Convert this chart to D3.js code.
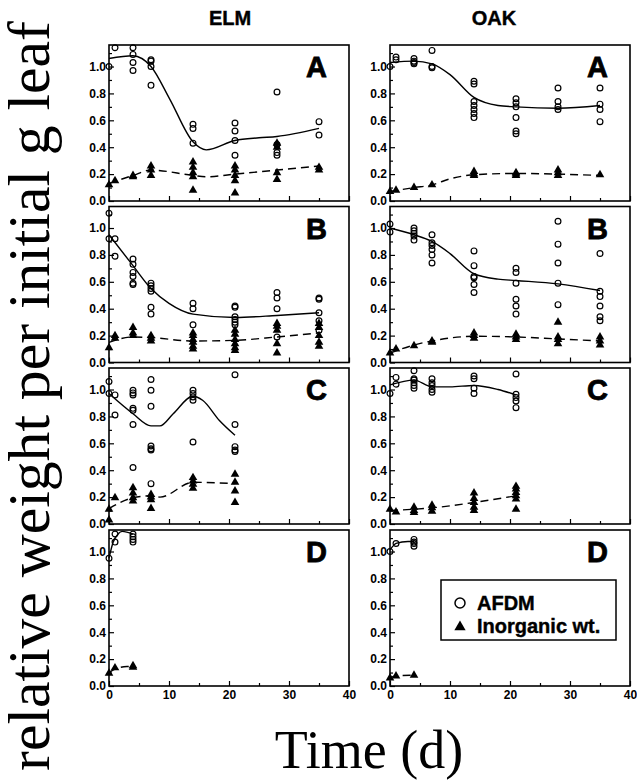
<!DOCTYPE html>
<html><head><meta charset="utf-8">
<script src="https://cdn.jsdelivr.net/npm/d3@7/dist/d3.min.js"></script>
<style>
html,body{margin:0;padding:0;background:#fff;}
svg{display:block;}
.tick text{font-family:"Liberation Sans",Arial,sans-serif;font-weight:700;font-size:12px;fill:#000;}
</style></head>
<body><svg id="c" width="637" height="782"></svg>
<script>
// ---------- data ----------
const columns = ["ELM", "OAK"];
const panelLetters = ["A", "B", "C", "D"];
const yTicks = [0, 0.2, 0.4, 0.6, 0.8, 1.0];
const yMinor = [0.1, 0.3, 0.5, 0.7, 0.9, 1.1];
const xTicks = [0, 10, 20, 30, 40];
const xMinor = [5, 15, 25, 35];
const legendLabels = ["AFDM", "Inorganic wt."];

// [day, value]
const elmA_afdm = [[0,1.0],[1,1.14],[4,1.14],[4,1.09],[4,1.03],[4,0.97],[7,1.05],[7,1.04],[7,1.0],[7,0.86],[14,0.57],[14,0.54],[14,0.43],[21,0.58],[21,0.52],[21,0.45],[21,0.34],[28,0.81],[28,0.42],[28,0.36],[28,0.34],[35,0.59],[35,0.49]];
const elmA_afdmFit = [[0,1.06],[4,1.08],[7,1.0],[10.1,0.76],[14,0.44],[16.2,0.38],[21,0.45],[25,0.47],[28,0.48],[35,0.54]];
const elmA_inorg = [[0,0.12],[1,0.15],[4,0.19],[4,0.18],[7,0.26],[7,0.23],[7,0.19],[14,0.29],[14,0.25],[14,0.21],[14,0.18],[14,0.08],[21,0.26],[21,0.23],[21,0.19],[21,0.15],[21,0.06],[28,0.43],[28,0.40],[28,0.21],[28,0.16],[35,0.25],[35,0.23]];
const elmA_inorgFit = [[0,0.13],[4,0.19],[7,0.23],[14,0.19],[16.2,0.18],[21,0.2],[28,0.23],[35,0.26]];

const oakA_afdm = [[0,1.0],[1,1.07],[1,1.05],[4,1.06],[4,1.04],[4,1.03],[4,1.02],[7,1.12],[7,1.0],[7,0.99],[14,0.89],[14,0.87],[14,0.74],[14,0.71],[14,0.68],[14,0.65],[14,0.62],[21,0.76],[21,0.73],[21,0.70],[21,0.62],[21,0.52],[21,0.50],[28,0.84],[28,0.74],[28,0.70],[28,0.68],[35,0.84],[35,0.72],[35,0.68],[35,0.59]];
const oakA_afdmFit = [[0,1.03],[4,1.04],[7,1.02],[10,0.94],[14,0.77],[18,0.71],[21,0.70],[28,0.69],[35,0.71]];
const oakA_inorg = [[0,0.07],[1,0.08],[4,0.10],[7,0.12],[14,0.22],[14,0.20],[14,0.19],[21,0.21],[21,0.20],[21,0.19],[28,0.23],[28,0.21],[28,0.19],[35,0.195]];
const oakA_inorgFit = [[0,0.07],[4,0.10],[7,0.12],[10,0.165],[14,0.195],[21,0.205],[28,0.2],[35,0.19]];

const elmB_afdm = [[0,1.11],[0,0.92],[1,0.92],[1,0.79],[4,0.77],[4,0.73],[4,0.67],[4,0.64],[4,0.59],[4,0.58],[7,0.59],[7,0.57],[7,0.55],[7,0.53],[7,0.41],[7,0.36],[14,0.44],[14,0.40],[14,0.28],[21,0.42],[21,0.41],[21,0.34],[21,0.32],[21,0.30],[21,0.28],[28,0.52],[28,0.48],[28,0.40],[28,0.19],[35,0.48],[35,0.47],[35,0.37],[35,0.31],[35,0.24]];
const elmB_afdmFit = [[0,0.95],[4,0.72],[7,0.55],[10,0.44],[14,0.36],[21,0.335],[28,0.35],[35,0.37]];
const elmB_inorg = [[0,0.11],[1,0.20],[1,0.18],[4,0.26],[4,0.22],[4,0.20],[7,0.20],[7,0.18],[7,0.16],[14,0.22],[14,0.20],[14,0.17],[14,0.15],[14,0.12],[14,0.10],[21,0.24],[21,0.21],[21,0.17],[21,0.14],[21,0.11],[21,0.09],[28,0.29],[28,0.27],[28,0.24],[28,0.14],[28,0.07],[35,0.29],[35,0.26],[35,0.20],[35,0.15],[35,0.12]];
const elmB_inorgFit = [[0,0.15],[4,0.19],[7,0.185],[14,0.16],[21,0.165],[28,0.19],[35,0.22]];

const oakB_afdm = [[0,1.03],[0,0.97],[4,1.0],[4,0.98],[4,0.96],[4,0.94],[4,0.91],[7,0.95],[7,0.89],[7,0.87],[7,0.84],[7,0.80],[7,0.74],[14,0.83],[14,0.72],[14,0.64],[14,0.63],[14,0.58],[14,0.52],[21,0.70],[21,0.67],[21,0.59],[21,0.47],[21,0.42],[21,0.36],[28,1.05],[28,0.88],[28,0.74],[28,0.59],[28,0.43],[35,0.81],[35,0.53],[35,0.49],[35,0.42],[35,0.34],[35,0.31]];
const oakB_afdmFit = [[0,1.0],[4,0.95],[7,0.9],[10,0.81],[14,0.66],[18,0.62],[21,0.61],[28,0.585],[35,0.535]];
const oakB_inorg = [[0,0.07],[1,0.10],[4,0.125],[7,0.16],[7,0.15],[14,0.22],[14,0.20],[14,0.18],[21,0.21],[21,0.19],[21,0.17],[28,0.30],[28,0.19],[28,0.17],[28,0.14],[35,0.19],[35,0.16],[35,0.13]];
const oakB_inorgFit = [[0,0.07],[4,0.13],[7,0.16],[14,0.195],[21,0.19],[28,0.175],[35,0.16]];

const elmC_afdm = [[0,1.06],[0,0.97],[1,0.96],[1,0.81],[4,0.995],[4,0.975],[4,0.96],[4,0.86],[4,0.845],[4,0.74],[4,0.42],[7,1.075],[7,0.995],[7,0.875],[7,0.58],[7,0.56],[7,0.55],[7,0.30],[14,0.995],[14,0.97],[14,0.945],[14,0.92],[14,0.61],[21,1.11],[21,0.74],[21,0.575],[21,0.55],[21,0.54]];
const elmC_afdmFit = [[0,0.97],[4,0.82],[7,0.73],[8.5,0.73],[10.7,0.82],[14,0.95],[15.6,0.92],[18.4,0.77],[21,0.66]];
const elmC_inorg = [[0,0.11],[0,0.03],[1,0.195],[4,0.27],[4,0.23],[4,0.195],[4,0.17],[7,0.22],[7,0.20],[7,0.18],[7,0.115],[14,0.345],[14,0.32],[14,0.295],[14,0.265],[21,0.37],[21,0.31],[21,0.245],[21,0.16]];
const elmC_inorgFit = [[0,0.115],[4,0.195],[7,0.21],[8.5,0.2],[14,0.31],[21,0.3]];

const oakC_afdm = [[0,0.97],[1,1.09],[1,1.04],[4,1.14],[4,1.08],[4,1.07],[4,1.05],[4,1.03],[4,1.01],[7,1.08],[7,1.05],[7,1.03],[7,1.0],[7,0.98],[14,1.10],[14,1.08],[14,1.01],[14,0.97],[21,1.115],[21,0.965],[21,0.94],[21,0.915],[21,0.865]];
const oakC_afdmFit = [[0,1.035],[4,1.07],[7,1.02],[10,1.02],[14,1.03],[18,1.0],[21,0.96]];
const oakC_inorg = [[0,0.11],[1,0.09],[4,0.125],[4,0.10],[4,0.085],[7,0.14],[7,0.12],[7,0.095],[14,0.23],[14,0.19],[14,0.16],[14,0.125],[14,0.10],[21,0.28],[21,0.26],[21,0.235],[21,0.21],[21,0.185],[21,0.11]];
const oakC_inorgFit = [[0,0.10],[4,0.11],[7,0.12],[14,0.16],[21,0.21]];

const elmD_afdm = [[0,0.95],[1,1.13],[1,1.07],[4,1.13],[4,1.11],[4,1.09],[4,1.07]];
const elmD_afdmFit = [[0,0.95],[0.7,1.07],[1.5,1.13],[2.2,1.15],[4,1.13]];
const elmD_inorg = [[0,0.095],[1,0.135],[4,0.15],[4,0.14]];
const elmD_inorgFit = [[0,0.1],[1,0.125],[3,0.145],[4,0.145]];

const oakD_afdm = [[0,1.0],[1,1.06],[4,1.09],[4,1.07],[4,1.06],[4,1.04]];
const oakD_afdmFit = [[0,1.01],[1,1.06],[3,1.075],[4,1.075]];
const oakD_inorg = [[0,0.06],[1,0.075],[4,0.08]];
const oakD_inorgFit = [[0,0.06],[1,0.075],[4,0.08]];

const panels = [
  [elmA_afdm, elmA_afdmFit, elmA_inorg, elmA_inorgFit],
  [oakA_afdm, oakA_afdmFit, oakA_inorg, oakA_inorgFit],
  [elmB_afdm, elmB_afdmFit, elmB_inorg, elmB_inorgFit],
  [oakB_afdm, oakB_afdmFit, oakB_inorg, oakB_inorgFit],
  [elmC_afdm, elmC_afdmFit, elmC_inorg, elmC_inorgFit],
  [oakC_afdm, oakC_afdmFit, oakC_inorg, oakC_inorgFit],
  [elmD_afdm, elmD_afdmFit, elmD_inorg, elmD_inorgFit],
  [oakD_afdm, oakD_afdmFit, oakD_inorg, oakD_inorgFit]
];

// ---------- layout ----------
const colLeft = [109, 390];
const plotW = 240;
const rowTop = [45, 206.5, 368, 530];
const plotH = 156;
const titleX = [230, 494];
const sans = '"Liberation Sans", Arial, Helvetica, sans-serif';
const serif = '"Liberation Serif", "Times New Roman", Times, serif';

const svg = d3.select("#c");

const x = d3.scaleLinear().domain([0, 40]).range([0, plotW]);
const y = d3.scaleLinear().domain([0, 1.16]).range([plotH, 0]);

const triPath = d3.symbol().type(d3.symbolTriangle).size(32)();

panels.forEach((p, i) => {
  const col = i % 2, row = Math.floor(i / 2);
  const g = svg.append("g").attr("transform", `translate(${colLeft[col]},${rowTop[row]})`);

  // axes (ticks inside)
  const ya = g.append("g").call(d3.axisLeft(y).tickValues(yTicks).tickSize(-5).tickPadding(3).tickFormat(d3.format(".1f")));
  ya.select(".domain").remove();
  ya.selectAll("line").attr("stroke", "#000").attr("stroke-width", 1.2);
  const ym = g.append("g").call(d3.axisLeft(y).tickValues(yMinor).tickSize(-3).tickFormat(""));
  ym.select(".domain").remove();
  ym.selectAll("line").attr("stroke", "#000").attr("stroke-width", 1.2);

  const xa = g.append("g").attr("transform", `translate(0,${plotH})`)
    .call(d3.axisBottom(x).tickValues(xTicks).tickSize(-5).tickPadding(4).tickFormat(row === 3 ? d3.format("d") : ""));
  xa.select(".domain").remove();
  xa.selectAll("line").attr("stroke", "#000").attr("stroke-width", 1.2);
  const xm = g.append("g").attr("transform", `translate(0,${plotH})`)
    .call(d3.axisBottom(x).tickValues(xMinor).tickSize(-3).tickFormat(""));
  xm.select(".domain").remove();
  xm.selectAll("line").attr("stroke", "#000").attr("stroke-width", 1.2);

  // frame
  g.append("rect").attr("width", plotW).attr("height", plotH)
    .attr("fill", "none").attr("stroke", "#000").attr("stroke-width", 1.6);

  const [afdm, afdmFit, inorg, inorgFit] = p;
  const line = d3.line().x(d => x(d[0])).y(d => y(d[1])).curve(d3.curveMonotoneX);

  g.append("path").attr("d", line(afdmFit)).attr("fill", "none").attr("stroke", "#000").attr("stroke-width", 1.4);
  g.append("path").attr("d", line(inorgFit)).attr("fill", "none").attr("stroke", "#000").attr("stroke-width", 1.4)
    .attr("stroke-dasharray", "8,5");

  g.selectAll("circle.af").data(afdm).join("circle").attr("class", "af")
    .attr("cx", d => x(d[0])).attr("cy", d => y(d[1])).attr("r", 2.9)
    .attr("fill", "none").attr("stroke", "#000").attr("stroke-width", 1.2);
  g.selectAll("path.tr").data(inorg).join("path").attr("class", "tr")
    .attr("d", triPath).attr("transform", d => `translate(${x(d[0])},${y(d[1])})`).attr("fill", "#000");

  // panel letter
  g.append("text").attr("x", plotW - 22).attr("y", 32).attr("text-anchor", "end")
    .attr("font-family", sans).attr("font-weight", 900).attr("font-size", 29)
    .attr("stroke", "#000").attr("stroke-width", 0.8).text(panelLetters[row]);
});

// column titles
columns.forEach((c, i) => {
  svg.append("text").attr("x", titleX[i]).attr("y", 25).attr("text-anchor", "middle")
    .attr("font-family", sans).attr("font-weight", 700).attr("font-size", 20)
    .attr("stroke", "#000").attr("stroke-width", 0.4).text(c);
});

// legend (OAK D panel)
const lg = svg.append("g").attr("transform", `translate(${colLeft[1]},${rowTop[3]})`);
lg.append("rect").attr("x", 51).attr("y", 50).attr("width", 175).attr("height", 60)
  .attr("fill", "#fff").attr("stroke", "#000").attr("stroke-width", 1.5);
lg.append("circle").attr("cx", 70).attr("cy", 73).attr("r", 5).attr("fill", "none").attr("stroke", "#000").attr("stroke-width", 1.5);
lg.append("path").attr("d", d3.symbol().type(d3.symbolTriangle).size(55)()).attr("transform", "translate(70,97)").attr("fill", "#000");
legendLabels.forEach((t, i) => {
  lg.append("text").attr("x", 87).attr("y", 80 + i * 23).attr("font-family", sans).attr("font-weight", 700)
    .attr("font-size", 20).attr("stroke", "#000").attr("stroke-width", 0.4).text(t);
});

// axis titles
const yt = svg.append("text").attr("transform", "translate(49,396) rotate(-90)").attr("text-anchor", "middle")
  .attr("font-family", serif).attr("font-size", 50).text("relative weight per initial g leaf");
const L = yt.node().getComputedTextLength();
yt.attr("font-size", 50 * 750 / L);

svg.append("text").attr("x", 369).attr("y", 768).attr("text-anchor", "middle")
  .attr("font-family", serif).attr("font-size", 54).text("Time (d)");
</script></body></html>
